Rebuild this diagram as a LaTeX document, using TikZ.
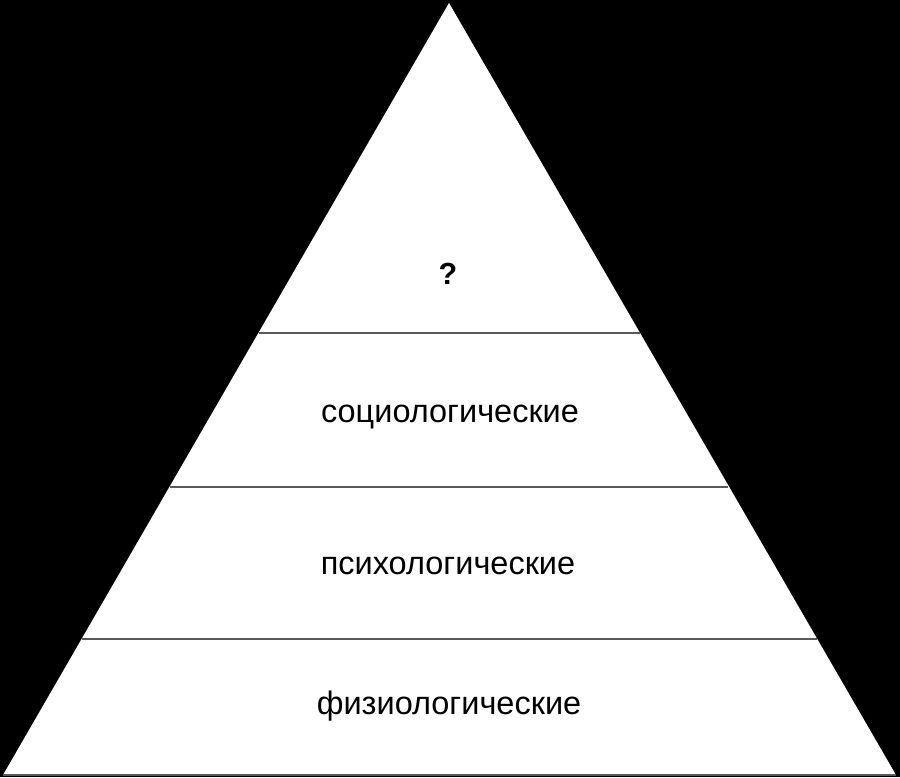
\documentclass[tikz,border=0pt]{standalone}
\usepackage{fontspec}
\setmainfont{Liberation Sans}
\begin{document}
\begin{tikzpicture}[x=1pt,y=-1pt,
  lvl/.style={draw=black!65,line width=1.6pt},
  lbl/.style={font=\fontsize{32.5}{38}\selectfont,text=black,anchor=base,inner sep=0pt}]
\fill[black] (0,0) rectangle (900,777);
\useasboundingbox (0,0) rectangle (900,777);
\coordinate (apex) at (449,3);
\coordinate (bl) at (3,775);
\coordinate (br) at (896,775);
\fill[white] (apex) -- (br) -- (bl) -- cycle;
\draw[lvl] (bl) -- (br);
\coordinate (a1) at (258.5,333);
\coordinate (b1) at (639.5,333);
\coordinate (a2) at (169.5,487);
\coordinate (b2) at (728,487);
\coordinate (a3) at (81.5,639);
\coordinate (b3) at (817,639);
\draw[lvl] (a1) -- (b1);
\draw[lvl] (a2) -- (b2);
\draw[lvl] (a3) -- (b3);
\node[lbl,font=\fontsize{30.5}{34}\selectfont\bfseries] (q) at (448,284) {?};
\node[lbl] (soc) at (450,422) {социологические};
\node[lbl] (psy) at (448,574) {психологические};
\node[lbl] (phy) at (449,714) {физиологические};
\end{tikzpicture}
\end{document}
